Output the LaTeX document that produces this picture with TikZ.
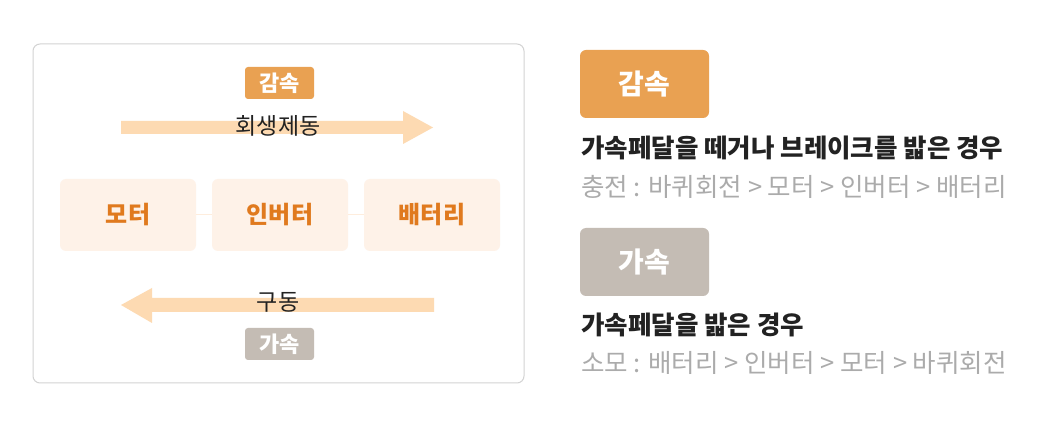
\documentclass[tikz,border=0pt]{standalone}
\usepackage{fontspec}
\setmainfont{Noto Sans CJK KR}
\definecolor{tagorange}{HTML}{E9A152}
\definecolor{taggray}{HTML}{C4BCB4}
\definecolor{arrowpeach}{HTML}{FDDAB2}
\definecolor{boxfill}{HTML}{FEF2E8}
\definecolor{boxtext}{HTML}{E07A1E}
\definecolor{graytext}{HTML}{ABABAB}
\definecolor{headtext}{HTML}{222222}
\definecolor{frame}{HTML}{D3D3D3}
\tikzset{
  smalltag/.style={rounded corners=3pt, minimum width=69pt, minimum height=32pt, inner sep=0pt, text=white, font=\fontsize{22pt}{22pt}\selectfont\bfseries},
  bigtag/.style={rounded corners=6pt, minimum width=129pt, minimum height=68pt, inner sep=0pt, text=white, font=\fontsize{28pt}{28pt}\selectfont\bfseries},
  unitbox/.style={fill=boxfill, rounded corners=6pt, minimum width=136pt, minimum height=72pt, inner sep=0pt, text=boxtext, font=\fontsize{24pt}{24pt}\selectfont\bfseries},
  arrowlabel/.style={inner sep=0pt, text=headtext, font=\fontsize{23pt}{23pt}\selectfont},
  heading/.style={inner sep=0pt, anchor=west, text=headtext, font=\fontsize{25.5pt}{25.5pt}\selectfont\bfseries},
  subline/.style={inner sep=0pt, anchor=west, text=graytext, font=\fontsize{25.5pt}{25.5pt}\selectfont},
  link/.style={draw=boxfill!80!arrowpeach, line width=1pt}
}
\begin{document}
\begin{tikzpicture}[x=1pt,y=-1pt]
\useasboundingbox (0,0) rectangle (1037,430);
\fill[white] (0,0) rectangle (1037,430);
% left frame
\draw[frame, line width=1pt, rounded corners=7pt, fill=white] (33,44) rectangle (524,383);
% top arrow (regeneration)
\fill[arrowpeach] (121,121) -- (403,121) -- (403,111) -- (433,127.5) -- (403,144) -- (403,134) -- (121,134) -- cycle;
% bottom arrow (drive)
\fill[arrowpeach] (434,298) -- (152,298) -- (152,288) -- (121,305) -- (152,323) -- (152,312) -- (434,312) -- cycle;
% tags
\node[smalltag, fill=tagorange] (tagdec) at (279.5,83) {감속};
\node[smalltag, fill=taggray] (tagacc) at (279.5,344) {가속};
\node[arrowlabel] (regen) at (278,126) {회생제동};
\node[arrowlabel] (drive) at (278,302) {구동};
% units
\node[unitbox] (motor) at (128,215) {모터};
\node[unitbox] (inverter) at (280,215) {인버터};
\node[unitbox] (battery) at (432,215) {배터리};
\draw[link] (motor.east) -- (inverter.west);
\draw[link] (inverter.east) -- (battery.west);
% right side
\node[bigtag, fill=tagorange] (bigdec) at (644.5,84) {감속};
\node[heading] (h1) at (581,148) {가속페달을 떼거나 브레이크를 밟은 경우};
\node[subline] (s1) at (581,187) {충전 : 바퀴회전 > 모터 > 인버터 > 배터리};
\node[bigtag, fill=taggray] (bigacc) at (644.5,262) {가속};
\node[heading] (h2) at (581,325) {가속페달을 밟은 경우};
\node[subline] (s2) at (581,363) {소모 : 배터리 > 인버터 > 모터 > 바퀴회전};
\end{tikzpicture}
\end{document}
